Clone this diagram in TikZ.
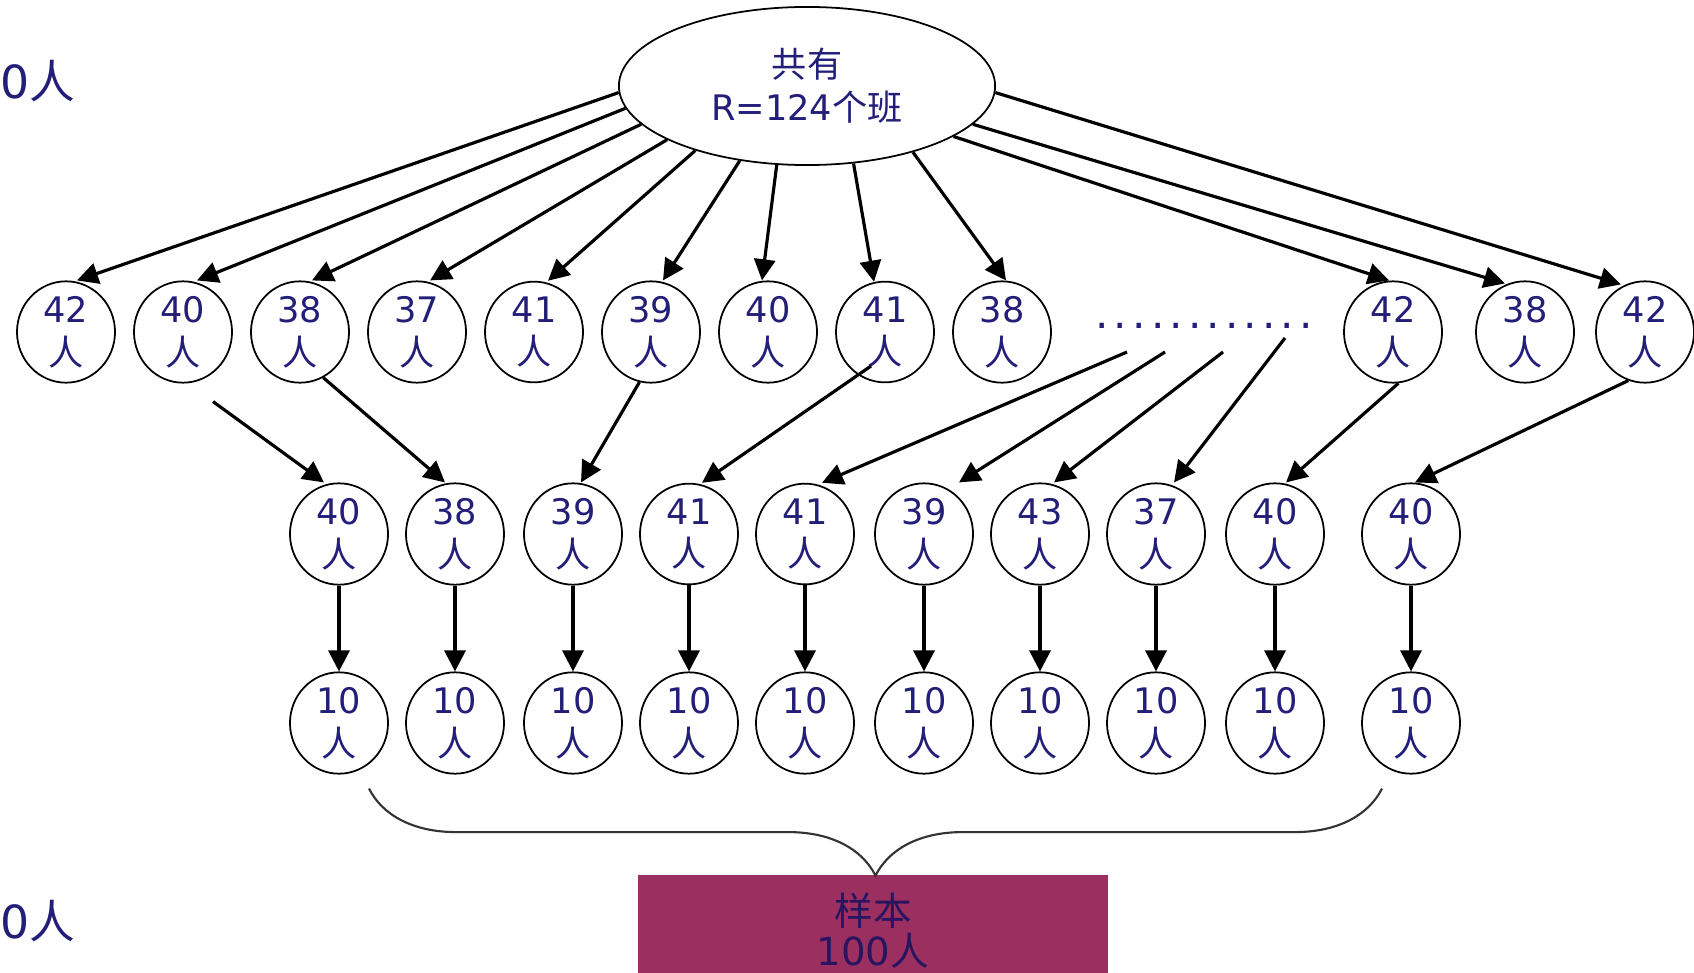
\documentclass[tikz,border=0pt]{standalone}
\usepackage{fontspec}
\setmainfont{DejaVu Sans}
\newfontfamily\cjk{Noto Sans CJK SC}
\usepackage{tikz}
\usetikzlibrary{shapes.geometric, arrows.meta, calc, decorations.pathreplacing}

\definecolor{navytext}{RGB}{35,30,120}
\definecolor{boxfill}{RGB}{155,48,96}
\definecolor{boxtext}{RGB}{40,20,95}

\tikzset{
    klass/.style={ellipse, draw, line width=0.5pt, minimum width=0.98cm, minimum height=1cm, inner sep=0pt, align=center, text=navytext, font=\fontsize{10}{12.2}\selectfont},
    total/.style={ellipse, draw, line width=0.5pt, minimum width=3.76cm, minimum height=1.58cm, inner sep=0pt, align=center, text=navytext, font=\fontsize{10}{12.2}\selectfont},
    arr/.style={-{Triangle[length=6pt,width=6pt]}, line width=0.9pt},
    sample/.style={rectangle, fill=boxfill, minimum width=4.7cm, minimum height=1.12cm, inner sep=0pt, align=center, text=boxtext, font=\fontsize{11}{11.6}\selectfont},
    edgetext/.style={text=navytext, font=\fontsize{13}{15}\selectfont, inner sep=0pt},
    dotrow/.style={text=navytext, font=\fontsize{12}{14}\selectfont, inner sep=0pt},
    brc/.style={decorate, decoration={brace, mirror, amplitude=0.87cm}, line width=0.6pt, draw=black!80}
}

\begin{document}
\begin{tikzpicture}[x=0.01cm, y=-0.01cm]
    \useasboundingbox (0,0) rectangle (1694,973);
    \clip (0,0) rectangle (1694,973);

    \node[edgetext, anchor=west] (lt) at (0,81) {0{\cjk 人}};
    \node[edgetext, anchor=west] (lb) at (0,921) {0{\cjk 人}};

    \node[total] (top) at (807,86) {{\cjk 共有}\\R=124{\cjk 个班}};

    \node[klass] (a1) at (66,332) {42\\{\cjk 人}};
    \node[klass] (a2) at (183,332) {40\\{\cjk 人}};
    \node[klass] (a3) at (300,332) {38\\{\cjk 人}};
    \node[klass] (a4) at (417,332) {37\\{\cjk 人}};
    \node[klass] (a5) at (534,332) {41\\{\cjk 人}};
    \node[klass] (a6) at (651,332) {39\\{\cjk 人}};
    \node[klass] (a7) at (768,332) {40\\{\cjk 人}};
    \node[klass] (a8) at (885,332) {41\\{\cjk 人}};
    \node[klass] (a9) at (1002,332) {38\\{\cjk 人}};
    \node[dotrow] (dots) at (1204,326) {\foreach \k in {1,...,11}{.\kern1.45pt}.};
    \node[klass] (a10) at (1393,332) {42\\{\cjk 人}};
    \node[klass] (a11) at (1525,332) {38\\{\cjk 人}};
    \node[klass] (a12) at (1645,332) {42\\{\cjk 人}};

    \node[klass] (b1) at (339,534) {40\\{\cjk 人}};
    \node[klass] (b2) at (455,534) {38\\{\cjk 人}};
    \node[klass] (b3) at (573,534) {39\\{\cjk 人}};
    \node[klass] (b4) at (689,534) {41\\{\cjk 人}};
    \node[klass] (b5) at (805,534) {41\\{\cjk 人}};
    \node[klass] (b6) at (924,534) {39\\{\cjk 人}};
    \node[klass] (b7) at (1040,534) {43\\{\cjk 人}};
    \node[klass] (b8) at (1156,534) {37\\{\cjk 人}};
    \node[klass] (b9) at (1275,534) {40\\{\cjk 人}};
    \node[klass] (b10) at (1411,534) {40\\{\cjk 人}};

    \node[klass] (c1) at (339,723) {10\\{\cjk 人}};
    \node[klass] (c2) at (455,723) {10\\{\cjk 人}};
    \node[klass] (c3) at (573,723) {10\\{\cjk 人}};
    \node[klass] (c4) at (689,723) {10\\{\cjk 人}};
    \node[klass] (c5) at (805,723) {10\\{\cjk 人}};
    \node[klass] (c6) at (924,723) {10\\{\cjk 人}};
    \node[klass] (c7) at (1040,723) {10\\{\cjk 人}};
    \node[klass] (c8) at (1156,723) {10\\{\cjk 人}};
    \node[klass] (c9) at (1275,723) {10\\{\cjk 人}};
    \node[klass] (c10) at (1411,723) {10\\{\cjk 人}};

    \node[sample, anchor=north] (smp) at (873,874) {{\cjk 样本}\\100{\cjk 人}};

    \draw[arr] (top.182) -- ($(a1.north)+(11,0)$);
    \draw[arr] (top.187) -- ($(a2.north)+(14,0)$);
    \draw[arr] (top.193) -- ($(a3.north)+(12,0)$);
    \draw[arr] (top.201) -- ($(a4.north)+(13,0)$);
    \draw[arr] (top.210) -- ($(a5.north)+(14,0)$);
    \draw[arr] (top.228) -- ($(a6.north)+(12,0)$);
    \draw[arr] (top.249) -- ($(a7.north)+(-6,0)$);
    \draw[arr] (top.301) -- ($(a8.north)+(-11,1)$);
    \draw[arr] (top.328) -- ($(a9.north)+(4,0)$);
    \draw[arr] (top.341) -- ($(a10.north)+(-4,0)$);
    \draw[arr] (top.347) -- ($(a11.north)+(-20,3)$);
    \draw[arr] (top.358) -- ($(a12.north)+(-24,4)$);

    \draw[arr] ($(a2.south)+(30,18)$) -- ($(b1.north)+(-15,0)$);
    \draw[arr] (a3.-63) -- ($(b2.north)+(-10,0)$);
    \draw[arr] (a6.-103) -- ($(b3.north)+(8,0)$);
    \draw[arr] ($(a8.center)+(-14,34)$) -- ($(b4.north)+(13,0)$);
    \draw[arr] ($(dots.center)+(-77,26)$) -- ($(b5.north)+(17,0)$);
    \draw[arr] ($(dots.center)+(-39,26)$) -- ($(b6.north)+(35,0)$);
    \draw[arr] ($(dots.center)+(19,26)$) -- ($(b7.north)+(14,0)$);
    \draw[arr] ($(dots.center)+(81,12)$) -- ($(b8.north)+(18,0)$);
    \draw[arr] (a10.-84) -- ($(b9.north)+(11,0)$);
    \draw[arr] (a12.-109) -- ($(b10.north)+(4,0)$);

    \draw[arr] (b1) -- (c1);
    \draw[arr] (b2) -- (c2);
    \draw[arr] (b3) -- (c3);
    \draw[arr] (b4) -- (c4);
    \draw[arr] (b5) -- (c5);
    \draw[arr] (b6) -- (c6);
    \draw[arr] (b7) -- (c7);
    \draw[arr] (b8) -- (c8);
    \draw[arr] (b9) -- (c9);
    \draw[arr] (b10) -- (c10);

    \draw[brc] ($(c1.south)+(30,14)$) -- ($(c10.south)+(-29,14)$);
\end{tikzpicture}
\end{document}
